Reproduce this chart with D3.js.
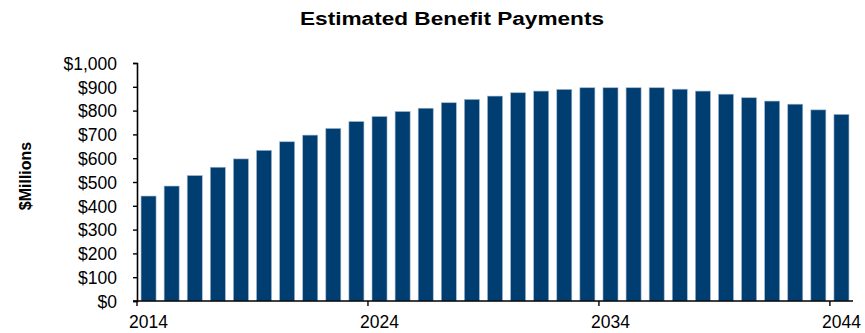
<!DOCTYPE html>
<html>
<head>
<meta charset="utf-8">
<script src="https://cdn.jsdelivr.net/npm/d3@7"></script>
<style>
  body { margin: 0; background: #fff; }
  text { font-family: Arial, "Liberation Sans", sans-serif; fill: #000; }
</style>
</head>
<body>
<svg id="canvas" width="865" height="333"></svg>
<script>
/** Chart data */
const years = d3.range(2014, 2045);
const payments = [441, 483, 527, 562, 597, 633, 669, 697, 725, 754,
                  775, 796, 810, 833, 847, 861, 875, 882, 889, 896,
                  896, 896, 896, 890, 882, 869, 854, 840, 827, 803, 784];
const yearLabels = [2014, 2024, 2034, 2044];
const yTicks = d3.range(0, 1001, 100);

let canvas = d3.select('#canvas');

/** Plot area */
const plotLeft = 137, plotRight = 853, plotTop = 63, plotBottom = 301;

let xScale = d3.scaleBand()
    .domain(years)
    .range([plotLeft, plotRight])
    .paddingInner(0.35)
    .paddingOuter(0.175);

let yScale = d3.scaleLinear()
    .domain([0, 1000])
    .range([plotBottom, plotTop]);

/** Title */
canvas.append('text')
    .attr('x', 452)
    .attr('y', 25)
    .attr('text-anchor', 'middle')
    .attr('font-size', 18)
    .attr('font-weight', 'bold')
    .attr('textLength', 304)
    .attr('lengthAdjust', 'spacingAndGlyphs')
    .text('Estimated  Benefit Payments');

/** Y axis title */
canvas.append('text')
    .attr('transform', 'translate(31,176) rotate(-90)')
    .attr('text-anchor', 'middle')
    .attr('font-size', 16)
    .attr('font-weight', 'bold')
    .text('$Millions');

/** Bars */
canvas.append('g')
    .selectAll('rect')
    .data(years)
    .enter()
    .append('rect')
    .attr('x', (year) => xScale(year))
    .attr('y', (year, i) => yScale(payments[i]))
    .attr('width', xScale.bandwidth())
    .attr('height', (year, i) => plotBottom - yScale(payments[i]))
    .attr('fill', '#003d71')
    .attr('stroke', '#9fb6cf')
    .attr('stroke-width', 0.6);

/** Y axis */
let yAxis = canvas.append('g')
    .attr('transform', `translate(${plotLeft},0)`)
    .call(d3.axisLeft(yScale)
        .tickValues(yTicks)
        .tickSize(4)
        .tickPadding(16)
        .tickFormat((d) => '$' + d3.format(',')(d)));

yAxis.select('.domain').attr('stroke', '#000').attr('stroke-width', 1.6);
yAxis.selectAll('.tick line').attr('stroke', '#000').attr('stroke-width', 1.4);
yAxis.selectAll('.tick text')
    .attr('font-size', 17.5)
    .attr('font-family', 'Arial, "Liberation Sans", sans-serif')
    .attr('dy', '0.36em');

/** X axis line and ticks at category boundaries */
let xAxis = canvas.append('g');

xAxis.append('line')
    .attr('x1', plotLeft - 4)
    .attr('x2', plotRight)
    .attr('y1', plotBottom)
    .attr('y2', plotBottom)
    .attr('stroke', '#000')
    .attr('stroke-width', 1.6);

xAxis.selectAll('.xtick')
    .data(yearLabels)
    .enter()
    .append('line')
    .attr('class', 'xtick')
    .attr('x1', (year) => xScale(year) - xScale.step() * xScale.paddingInner() / 2)
    .attr('x2', (year) => xScale(year) - xScale.step() * xScale.paddingInner() / 2)
    .attr('y1', plotBottom)
    .attr('y2', plotBottom + 5)
    .attr('stroke', '#000')
    .attr('stroke-width', 1.4);

xAxis.selectAll('.xlabel')
    .data(yearLabels)
    .enter()
    .append('text')
    .attr('class', 'xlabel')
    .attr('x', (year) => xScale(year) + xScale.bandwidth() / 2)
    .attr('y', 328)
    .attr('text-anchor', 'middle')
    .attr('font-size', 17.5)
    .text((year) => year);
</script>
</body>
</html>
